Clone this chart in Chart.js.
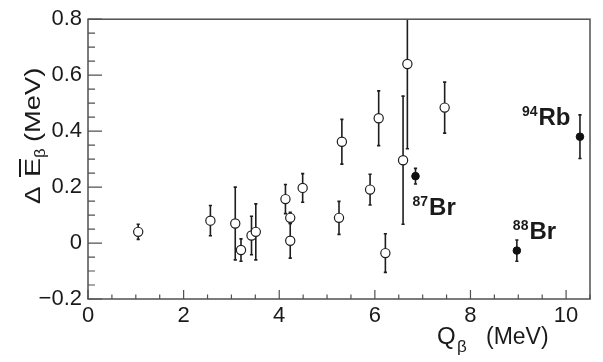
<!DOCTYPE html>
<html>
<head>
<meta charset="utf-8">
<script src="https://cdn.jsdelivr.net/npm/chart.js@4.4.1/dist/chart.umd.min.js"></script>
<style>
html, body { margin: 0; padding: 0; background: #fff; }
</style>
</head>
<body>
<canvas id="beta" width="603" height="362"></canvas>
<script>
// open circles: other nuclei
var qOpen   = [1.05, 2.56, 3.08, 3.20, 3.42, 3.51, 4.13, 4.23, 4.23, 4.49, 5.25, 5.31, 5.90, 6.08, 6.22, 6.59, 6.68, 7.46];
var dEOpen  = [0.040, 0.080, 0.070, -0.025, 0.027, 0.040, 0.157, 0.090, 0.008, 0.197, 0.090, 0.362, 0.191, 0.446, -0.036, 0.296, 0.640, 0.484];
var errOpen = [0.027, 0.054, 0.130, 0.040, 0.069, 0.100, 0.052, 0.020, 0.062, 0.051, 0.059, 0.080, 0.055, 0.098, 0.069, 0.229, 0.303, 0.091];

// filled circles: labelled nuclei
var qFilled   = [6.85, 8.97, 10.29];
var dEFilled  = [0.239, -0.027, 0.380];
var errFilled = [0.028, 0.038, 0.078];
var massNum   = ['87', '88', '94'];
var element   = ['Br', 'Br', 'Rb'];

var xTicks = [0, 2, 4, 6, 8, 10];
var yTicks = [-0.2, 0, 0.2, 0.4, 0.6, 0.8];

var FONT = '"Liberation Sans", Arial, Helvetica, sans-serif';

function pts(xs, ys) {
    return xs.map(function (x, i) { return { x: x, y: ys[i] }; });
}

var extras = {
    id: 'extras',
    beforeDatasetsDraw: function (chart) {
        var ctx = chart.ctx, xs = chart.scales.x, ys = chart.scales.y, a = chart.chartArea;
        ctx.save();
        ctx.strokeStyle = '#1e1e1e';
        ctx.lineWidth = 1.6;
        chart.data.datasets.forEach(function (ds) {
            ds.data.forEach(function (p, i) {
                var e = ds.errors[i];
                var px = xs.getPixelForValue(p.x);
                var top = ys.getPixelForValue(p.y + e);
                var bot = ys.getPixelForValue(p.y - e);
                var t = Math.max(top, a.top), b = Math.min(bot, a.bottom);
                ctx.beginPath();
                ctx.moveTo(px, t);
                ctx.lineTo(px, b);
                if (top >= a.top) { ctx.moveTo(px - 1.6, top); ctx.lineTo(px + 1.6, top); }
                if (bot <= a.bottom) { ctx.moveTo(px - 1.6, bot); ctx.lineTo(px + 1.6, bot); }
                ctx.stroke();
            });
        });
        ctx.restore();
    },
    afterDraw: function (chart) {
        var ctx = chart.ctx, xs = chart.scales.x, ys = chart.scales.y, a = chart.chartArea;
        ctx.save();
        // frame
        ctx.strokeStyle = '#505050';
        ctx.lineWidth = 1.5;
        ctx.strokeRect(a.left, a.top, a.right - a.left, a.bottom - a.top);
        // inward ticks
        ctx.lineWidth = 1.2;
        ctx.beginPath();
        for (var k = -4; k <= 16; k++) {
            var py = ys.getPixelForValue(k * 0.05);
            var len = (k % 4 === 0) ? 14 : 7;
            ctx.moveTo(a.left, py);
            ctx.lineTo(a.left + len, py);
        }
        for (var j = 0; j <= 21; j++) {
            var px = xs.getPixelForValue(j * 0.5);
            var l2 = (j % 4 === 0) ? 9 : 4.5;
            ctx.moveTo(px, a.bottom);
            ctx.lineTo(px, a.bottom - l2);
        }
        ctx.stroke();

        ctx.fillStyle = '#1a1a1a';
        ctx.textBaseline = 'alphabetic';
        ctx.textAlign = 'left';

        // x title: Q_beta (MeV)
        ctx.font = '24px ' + FONT;
        ctx.fillText('Q', 437, 344);
        ctx.font = '17px ' + FONT;
        ctx.fillText('\u03b2', 457, 352);
        ctx.font = '23px ' + FONT;
        ctx.fillText('(MeV)', 486, 344);

        // y title: Delta E-bar_beta (MeV), rotated
        ctx.save();
        ctx.translate(40, 204);
        ctx.rotate(-Math.PI / 2);
        function piece(txt, off, size, dy, sx) {
            ctx.save();
            ctx.translate(off, dy);
            ctx.scale(sx, 1);
            ctx.font = size + 'px ' + FONT;
            ctx.fillText(txt, 0, 0);
            ctx.restore();
        }
        piece('\u0394', 0, 22, 0, 1.2);
        piece('E', 27, 22, 0, 1.3);
        ctx.fillRect(27, -21, 18, 2);
        piece('\u03b2', 46, 14, 5, 1.2);
        piece('(MeV)', 62, 22, 0, 1.24);
        ctx.restore();

        // isotope labels next to filled points
        var offs = [[-3, 39], [-4, -12], [-58, -12]];
        for (var i = 0; i < qFilled.length; i++) {
            var bx = xs.getPixelForValue(qFilled[i]) + offs[i][0];
            var by = ys.getPixelForValue(dEFilled[i]) + offs[i][1];
            ctx.font = 'bold 14px ' + FONT;
            ctx.fillText(massNum[i], bx, by - 9);
            var w = ctx.measureText(massNum[i]).width;
            ctx.font = 'bold 24px ' + FONT;
            ctx.fillText(element[i], bx + w + 1, by);
        }
        ctx.restore();
    }
};

var ctx = document.getElementById('beta').getContext('2d');
var myChart = new Chart(ctx, {
    type: 'scatter',
    data: {
        datasets: [{
            label: 'open',
            data: pts(qOpen, dEOpen),
            errors: errOpen,
            pointRadius: 4.6,
            pointBackgroundColor: '#ffffff',
            pointBorderColor: '#1e1e1e',
            pointBorderWidth: 1.2
        }, {
            label: 'filled',
            data: pts(qFilled, dEFilled),
            errors: errFilled,
            pointRadius: 3.8,
            pointBackgroundColor: '#111111',
            pointBorderColor: '#111111',
            pointBorderWidth: 1
        }]
    },
    options: {
        responsive: false,
        animation: false,
        layout: { padding: { top: 19, right: 13, bottom: 0, left: 0 } },
        plugins: { legend: { display: false }, tooltip: { enabled: false } },
        scales: {
            x: {
                type: 'linear', min: 0, max: 10.5,
                grid: { display: false, drawTicks: false }, border: { display: false },
                afterBuildTicks: function (s) { s.ticks = xTicks.map(function (v) { return { value: v }; }); },
                ticks: {
                    padding: 4, maxRotation: 0, color: '#1a1a1a',
                    font: { family: FONT, size: 22 },
                    callback: function (v) { return String(v); }
                },
                afterFit: function (s) { s.height = 63; }
            },
            y: {
                type: 'linear', min: -0.2, max: 0.8,
                grid: { display: false, drawTicks: false }, border: { display: false },
                afterBuildTicks: function (s) { s.ticks = yTicks.map(function (v) { return { value: v }; }); },
                ticks: {
                    padding: 6, color: '#1a1a1a',
                    font: { family: FONT, size: 22 },
                    callback: function (v) {
                        if (Math.abs(v) < 1e-9) return '0';
                        return v < 0 ? '\u2212' + Math.abs(v).toFixed(1) : v.toFixed(1);
                    }
                },
                afterFit: function (s) { s.width = 88; }
            }
        }
    },
    plugins: [extras]
});
</script>
</body>
</html>
